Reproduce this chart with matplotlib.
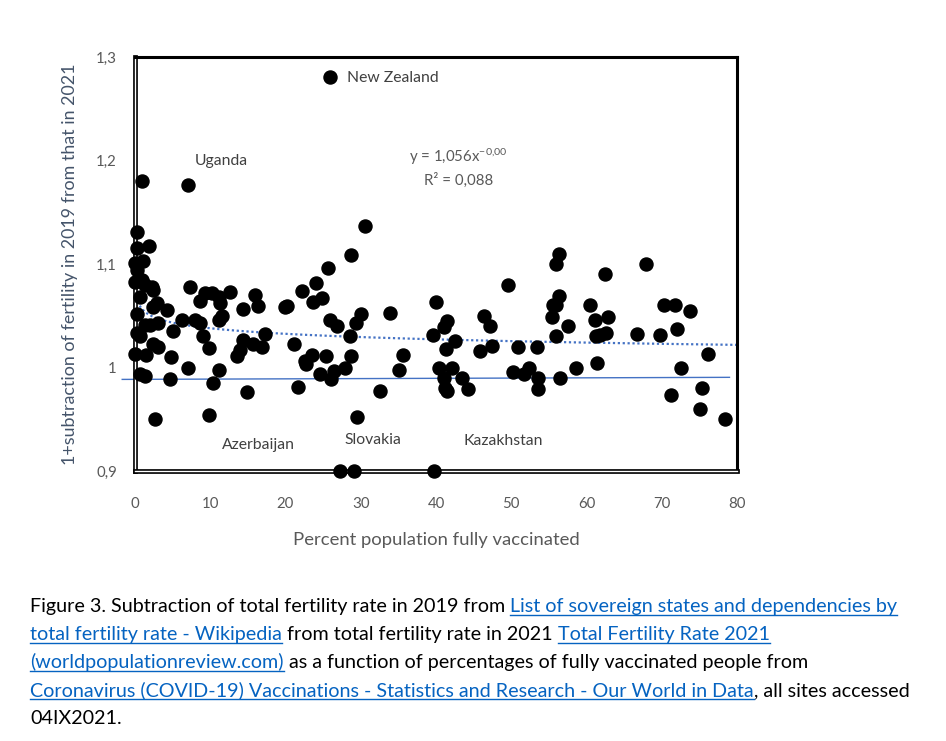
import matplotlib
matplotlib.use("Agg")
import matplotlib.pyplot as plt
import matplotlib.patheffects as pe
import numpy as np

# ---------------- data ----------------
vacc_pct = [25.9, 0.9, 7.1, 0.2, 0.2, 1.9, 0.0, 1.1, 0.2, 0.0, 0.9, 1.3, 2.2, 2.4, 0.7,
            7.3, 9.3, 10.2, 11.1, 12.6, 15.9, 8.6, 11.3, 2.9, 2.4, 4.3, 14.4, 16.3, 0.2,
            6.2, 8.0, 8.6, 11.1, 11.5, 1.3, 2.0, 3.1, 5.1, 0.2, 0.7, 9.1, 17.3, 14.4,
            2.4, 3.1, 9.9, 15.7, 16.9, 14.0, 13.5, 0.0, 1.5, 4.8, 7.1, 11.1, 0.7, 1.3,
            4.7, 10.3, 14.9, 9.8, 2.7,
            30.6, 28.7, 25.6, 24.1, 22.2, 20.2, 19.9, 23.6, 24.8, 25.9, 26.8, 29.4, 30.0,
            33.9, 40.0, 41.4, 41.1, 39.6, 28.6, 42.5, 21.1, 23.5, 22.6, 22.7, 25.4, 28.7,
            24.6, 26.5, 26.1, 27.9, 21.7, 32.6, 29.5, 35.6, 35.1, 41.3, 40.4, 42.1, 41.0,
            43.4, 41.2, 41.4, 44.2, 27.2, 29.1, 39.7,
            56.3, 56.0, 67.9, 62.5, 49.6, 56.3, 55.5, 56.0, 60.4, 46.4, 47.2, 55.4, 62.9,
            61.1, 57.6, 56.0, 61.8, 62.6, 61.3, 66.7, 69.8, 45.8, 47.4, 50.9, 53.4, 50.2,
            51.7, 52.4, 53.6, 53.5, 56.5, 58.6, 61.4, 70.3, 71.8, 73.7, 72.0, 76.2, 72.6,
            75.4, 71.2, 75.1, 78.4]
fertility_ratio = [1.281, 1.180, 1.176, 1.131, 1.115, 1.117, 1.101, 1.103, 1.094, 1.083, 1.085,
                   1.080, 1.078, 1.075, 1.068, 1.078, 1.072, 1.072, 1.068, 1.073, 1.070, 1.064,
                   1.062, 1.062, 1.058, 1.056, 1.057, 1.059, 1.052, 1.046, 1.046, 1.043, 1.046,
                   1.050, 1.041, 1.041, 1.043, 1.035, 1.033, 1.030, 1.030, 1.032, 1.027, 1.023,
                   1.020, 1.019, 1.023, 1.020, 1.017, 1.011, 1.013, 1.012, 1.010, 1.000, 0.998,
                   0.994, 0.992, 0.989, 0.985, 0.976, 0.954, 0.950,
                   1.137, 1.109, 1.096, 1.082, 1.074, 1.059, 1.058, 1.063, 1.067, 1.046, 1.040,
                   1.043, 1.052, 1.053, 1.063, 1.045, 1.039, 1.031, 1.030, 1.026, 1.023, 1.012,
                   1.006, 1.003, 1.011, 1.011, 0.994, 0.997, 0.989, 1.000, 0.981, 0.977, 0.952,
                   1.012, 0.998, 1.018, 1.000, 1.000, 0.990, 0.990, 0.980, 0.977, 0.979, 0.900,
                   0.900, 0.900,
                   1.110, 1.100, 1.100, 1.090, 1.080, 1.069, 1.060, 1.060, 1.060, 1.050, 1.040,
                   1.049, 1.049, 1.046, 1.040, 1.030, 1.031, 1.033, 1.030, 1.032, 1.031, 1.016,
                   1.021, 1.020, 1.020, 0.996, 0.994, 1.000, 0.990, 0.979, 0.990, 1.000, 1.004,
                   1.060, 1.060, 1.055, 1.037, 1.013, 1.000, 0.980, 0.973, 0.960, 0.950]

# power trend line parameters y = A * x^b
power_A = 1.056
power_b = -0.0075
# second (solid) trend line end points
solid_trend_x = [-1.7, 79.0]
solid_trend_y = [0.9885, 0.9905]

x_ticks = [0, 10, 20, 30, 40, 50, 60, 70, 80]
y_ticks = [0.9, 1.0, 1.1, 1.2, 1.3]
y_tick_labels = ["0,9", "1", "1,1", "1,2", "1,3"]

labels_text = ["New Zealand", "Uganda", "Azerbaijan", "Slovakia", "Kazakhstan"]
labels_x = [28.2, 8.0, 11.6, 27.8, 43.7]
labels_y = [1.28, 1.2, 0.925, 0.930, 0.929]

x_label = "Percent population fully vaccinated"
y_label = "1+subtraction of fertility in 2019 from that in 2021"
equation = r"y = 1,056x$^{\mathregular{-0{,}00}}$"
r2_text = "R² = 0,088"

caption_lines = [
    [("Figure 3. Subtraction of total fertility rate in 2019 from ", False),
     ("List of sovereign states and dependencies by", True)],
    [("total fertility rate - Wikipedia", True),
     (" from total fertility rate in 2021 ", False),
     ("Total Fertility Rate 2021", True)],
    [("(worldpopulationreview.com)", True),
     (" as a function of percentages of fully vaccinated people from", False)],
    [("Coronavirus (COVID-19) Vaccinations - Statistics and Research - Our World in Data", True),
     (", all sites accessed", False)],
    [("04IX2021.", False)],
]

# ---------------- figure ----------------
plt.rcParams['font.family'] = ['Lato', 'DejaVu Sans']
plt.rcParams['mathtext.fontset'] = 'custom'
plt.rcParams['mathtext.rm'] = 'Lato'
plt.rcParams['mathtext.it'] = 'Lato:italic'
plt.rcParams['mathtext.bf'] = 'Lato:bold'
W, H = 946, 741
fig = plt.figure(figsize=(W / 100, H / 100), dpi=100)
ax = fig.add_axes([135 / W, 1 - 471 / H, (737 - 135) / W, (471 - 57) / H])

ax.set_xlim(0, 80)
ax.set_ylim(0.9, 1.3)
ax.set_xticks(x_ticks)
ax.set_yticks(y_ticks)
ax.set_yticklabels(y_tick_labels)
ax.tick_params(length=0, colors='#595959', labelsize=10.8)
ax.tick_params(axis='x', pad=18.5)
ax.tick_params(axis='y', pad=13)

for s in ['top', 'right']:
    ax.spines[s].set_linewidth(2.2)
    ax.spines[s].set_color('black')
for s in ['left', 'bottom']:
    ax.spines[s].set_linewidth(1.0)
    ax.spines[s].set_color('white')
    ax.spines[s].set_path_effects([pe.Stroke(linewidth=3.4, foreground='black'), pe.Normal()])

# trend lines
xs = np.linspace(0.02, 80, 600)
ax.plot(xs, power_A * xs ** power_b, linestyle=(0, (1, 1.2)), color='#4472C4', lw=1.6,
        zorder=2, clip_on=False)
ax.plot(solid_trend_x, solid_trend_y, color='#4472C4', lw=1.0, zorder=2, clip_on=False)

# points
ax.plot(vacc_pct, fertility_ratio, 'o', color='black', markersize=9.4, zorder=5, clip_on=False)

# labels
for t, lx, ly in zip(labels_text, labels_x, labels_y):
    ax.text(lx, ly, t, color='#404040', fontsize=11.3, va='center', ha='left')

ax.text(0.537, 0.758, equation, transform=ax.transAxes, ha='center', va='center',
        color='#595959', fontsize=10.8)
ax.text(0.537, 0.703, r2_text, transform=ax.transAxes, ha='center', va='center',
        color='#595959', fontsize=10.8)

ax.set_xlabel(x_label, color='#595959', fontsize=13.3, labelpad=15.5)
ax.set_ylabel(y_label, color='#44546A', fontsize=12.9, labelpad=12.6)

# ---------------- caption ----------------
renderer = fig.canvas.get_renderer()


def text_width(s, size):
    t = fig.text(0, 0, "a" + s + "a", fontsize=size)
    w1 = t.get_window_extent(renderer).width
    t.remove()
    t = fig.text(0, 0, "aa", fontsize=size)
    w2 = t.get_window_extent(renderer).width
    t.remove()
    return w1 - w2


target_w = 912 - 30
size = 13.0
widest = max(text_width("".join(s for s, _ in ln), size) for ln in caption_lines)
size = size * target_w / widest

x0 = 30
baselines = [612, 640, 668, 696, 724]
for line, base in zip(caption_lines, baselines):
    x = x0
    for seg, link in line:
        col = '#0563C1' if link else 'black'
        fig.text(x / W, 1 - base / H, seg, fontsize=size, color=col, va='baseline', ha='left')
        w = text_width(seg, size)
        if link:
            fig.add_artist(plt.Line2D([x / W, (x + w) / W], [1 - (base + 3) / H] * 2,
                                      color=col, lw=1.0, transform=fig.transFigure))
        x += w

fig.savefig("out.png", dpi=100)
